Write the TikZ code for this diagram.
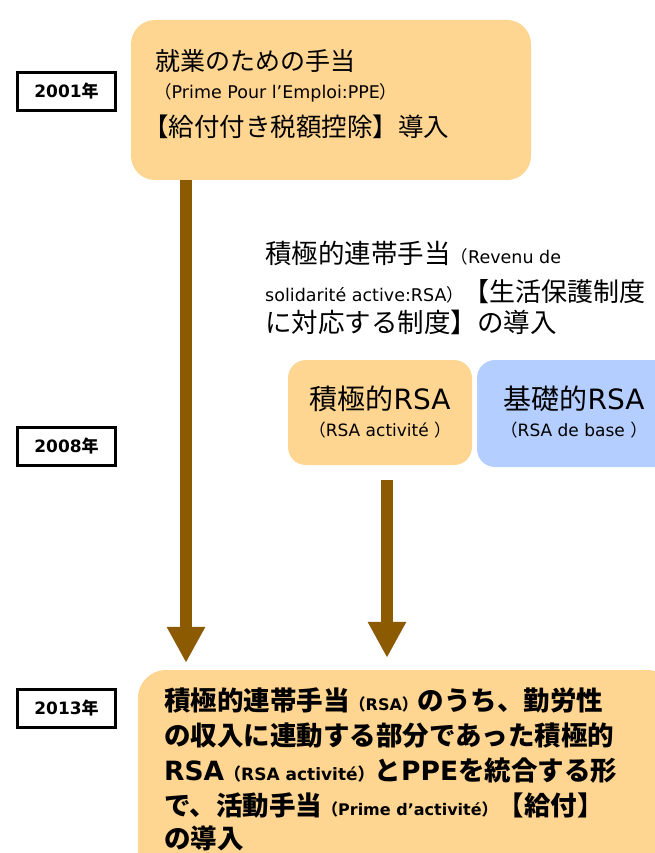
\documentclass[tikz,border=0pt]{standalone}
\usepackage{fontspec}
\setmainfont{Noto Sans CJK JP}
\newfontfamily\lt{DejaVu Sans}
\usetikzlibrary{arrows.meta}
\definecolor{boxorange}{RGB}{255,213,146}
\definecolor{boxblue}{RGB}{180,206,255}
\definecolor{arrowbrown}{RGB}{140,90,0}
\newcommand{\bigf}[1][25]{\fontsize{#1}{#1}\selectfont}
\newcommand{\sm}[2][16]{{\fontsize{#1}{#1}\selectfont #2}}

\begin{document}
\begin{tikzpicture}[x=1pt,y=-1pt,
        yearbox/.style={draw=black,line width=3pt,fill=white,minimum width=98pt,
            minimum height=38pt,inner sep=0pt,font=\bfseries\fontsize{17}{17}\selectfont},
        orbox/.style={fill=boxorange,rounded corners=24pt,inner sep=0pt},
        bluebox/.style={fill=boxblue,rounded corners=18pt,inner sep=0pt},
        txt/.style={anchor=base west,inner sep=0pt},
        mid/.style={anchor=base,inner sep=0pt},
        bigarrow/.style={arrowbrown,line width=12pt,-{Triangle[width=36pt,length=36pt]}}]
        \useasboundingbox (0,0) rectangle (655,853);
        \clip (0,0) rectangle (655,853);

        % the year labels
        \foreach \y/\t in {91.5/2001, 446.5/2008, 708/2013}
                \node[yearbox] (y\t) at (66.5,\y) {{\lt\t}年};

        % the boxes
        \node[orbox,minimum width=400pt,minimum height=160pt] (ppe) at (331,100) {};
        \node[orbox,minimum width=184pt,minimum height=105pt,rounded corners=18pt] (act) at (380,412.5) {};
        \node[bluebox,minimum width=198pt,minimum height=107pt] (base) at (576,413.5) {};
        \node[orbox,minimum width=537pt,minimum height=240pt,rounded corners=28pt] (fin) at (406.5,790) {};

        % text of the 2001 box
        \node[txt] (ppe1) at (155,71) {\bigf 就業のための手当};
        \node[txt] (ppe2) at (154,99) {\sm[17.5]{（{\lt Prime Pour l’Emploi:PPE}）}};
        \node[txt] (ppe3) at (143,137) {\bigf[25.5]【給付付き税額控除】導入};

        % text of the 2008 reform
        \node[txt] (rsa1) at (265,263) {\bigf[26.5]積極的連帯手当\sm[17.5]{（{\lt Revenu de}}};
        \node[txt] (rsa2) at (265,301) {\sm[17.5]{{\lt solidarité active:RSA}）}\bigf[26]【生活保護制度};
        \node[txt] (rsa3) at (265,332) {\bigf[26.5]に対応する制度】の導入};

        \node[mid] (act1) at (act.center |- 0,409) {\bigf[28]積極的{\lt RSA}};
        \node[mid] (act2) at (act.center |- 0,436) {\sm[17]{（{\lt RSA activité }）}};
        \node[mid] (base1) at (574,409) {\bigf[28]基礎的{\lt RSA}};
        \node[mid] (base2) at (574,436) {\sm[17]{（{\lt RSA de base }）}};

        % text of the 2013 box
        \foreach \y/\t in {
            710/{積極的連帯手当\sm{（{\lt RSA}）}のうち、勤労性},
            745/{の収入に連動する部分であった積極的},
            780/{{\lt RSA}\sm[17]{（{\lt RSA activité}）}と{\lt PPE}を統合する形},
            815/{で、活動手当\sm[16]{（{\lt Prime d’activité}）}【給付】},
            848/{の導入}}
                \node[txt,font=\bfseries\fontsize{26.5}{26.5}\selectfont] at (164,\y) {\t};

        % the arrows
        \coordinate (la) at ([xshift=-145pt]ppe.south);
        \coordinate (ra) at ([xshift=7pt,yshift=-15pt]act.south);
        \draw[bigarrow,shorten >=7pt] (la) -- (la |- fin.north);
        \draw[bigarrow,shorten >=12pt] (ra) -- (ra |- fin.north);
\end{tikzpicture}
\end{document}
